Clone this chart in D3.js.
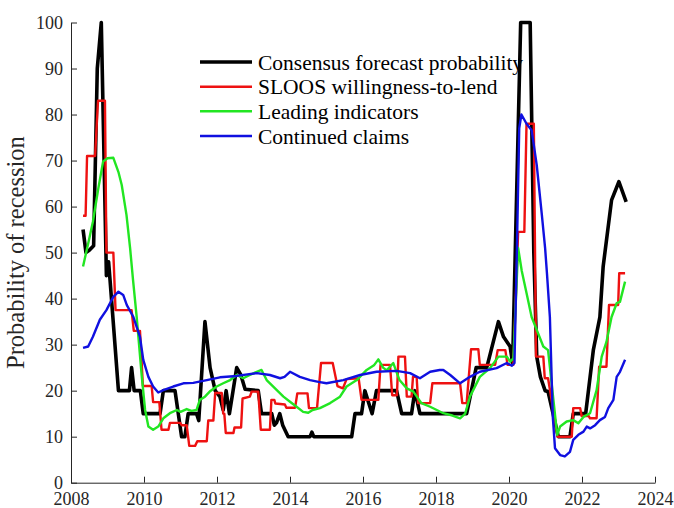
<!DOCTYPE html>
<html>
<head>
<meta charset="utf-8">
<script src="https://cdn.jsdelivr.net/npm/d3@7"></script>
<style>
html,body{margin:0;padding:0;background:#fff;}
svg{display:block;}
text{font-family:"Liberation Serif","Times New Roman",serif;}
</style>
</head>
<body>
<svg id="chart" width="674" height="508"></svg>
<script>
// ---- data (decimal year, probability %) ----
const seriesNames = ["Consensus forecast probability","SLOOS willingness-to-lend","Leading indicators","Continued claims"];
const xTicks = [2008,2010,2012,2014,2016,2018,2020,2022,2024];
const yTicks = [0,10,20,30,40,50,60,70,80,90,100];

const consensus = [[2008.33,55],[2008.41,50],[2008.5,50.5],[2008.62,51.5],[2008.72,90],[2008.83,100],[2008.97,45],[2009.03,48],[2009.07,44],[2009.3,20],[2009.6,20],[2009.66,25],[2009.73,20],[2009.9,20],[2009.98,15],[2010.44,15],[2010.53,20],[2010.85,20],[2011.03,10],[2011.12,10],[2011.21,15],[2011.44,15],[2011.5,13.5],[2011.67,35],[2011.81,25],[2011.95,20],[2012.08,18.7],[2012.17,15.8],[2012.25,20],[2012.34,15],[2012.44,20],[2012.54,25],[2012.65,23.5],[2012.77,20.3],[2013.13,20],[2013.22,15],[2013.5,15],[2013.57,12.5],[2013.63,13],[2013.72,15],[2013.8,12.5],[2013.95,10],[2014.55,10],[2014.6,11],[2014.65,10],[2015.69,10],[2015.78,15],[2015.96,15],[2016.05,20],[2016.25,15],[2016.37,20],[2016.92,20],[2017.06,15],[2017.33,15],[2017.42,20],[2017.56,15],[2018.84,15],[2019.1,25],[2019.39,25],[2019.71,35],[2019.85,31.7],[2020.03,29.6],[2020.1,26],[2020.32,100],[2020.58,100],[2020.68,50],[2020.76,27.4],[2020.86,23],[2020.99,20],[2021.07,19.8],[2021.35,10],[2021.67,10],[2021.76,15],[2022.1,15],[2022.31,28.8],[2022.49,36],[2022.58,47],[2022.81,61.4],[2023.01,65.4],[2023.21,61]];

const sloos = [[2008.33,58],[2008.4,58],[2008.44,71],[2008.66,71],[2008.74,83],[2008.93,83],[2008.97,50],[2009.16,50],[2009.22,37.5],[2009.66,37.5],[2009.72,33],[2009.89,33],[2009.97,21],[2010.21,21],[2010.25,17.5],[2010.42,17.5],[2010.48,11.5],[2010.67,11.5],[2010.71,13],[2010.99,13],[2011.03,12.5],[2011.17,12.5],[2011.24,8],[2011.4,8],[2011.46,9],[2011.72,9],[2011.76,13.5],[2011.9,13.5],[2011.95,19.5],[2012.13,19.5],[2012.17,15],[2012.2,15],[2012.24,10.8],[2012.45,10.8],[2012.48,12],[2012.66,12],[2012.7,18.3],[2012.9,18.7],[2012.95,19.8],[2013.13,19.8],[2013.2,11.5],[2013.45,11.5],[2013.49,18],[2013.57,18],[2013.6,17.2],[2013.86,17],[2013.9,16.3],[2014.14,16.3],[2014.2,19.4],[2014.48,19.4],[2014.52,16.2],[2014.74,16.2],[2014.85,26],[2015.17,26],[2015.3,21],[2015.45,20.5],[2015.55,22.5],[2015.88,22.7],[2015.96,18],[2016.42,18],[2016.48,25.6],[2016.74,25.6],[2016.8,19],[2016.93,19],[2016.97,27.4],[2017.15,27.4],[2017.2,18.7],[2017.33,18.7],[2017.37,23],[2017.47,23],[2017.51,17.3],[2017.84,17.3],[2017.9,21.6],[2018.66,21.6],[2018.72,17.3],[2018.84,17.3],[2018.96,29],[2019.16,29],[2019.2,25.6],[2019.62,25.6],[2019.69,28.8],[2019.9,28.8],[2019.96,25.6],[2020.12,25.6],[2020.25,54.5],[2020.42,54.5],[2020.48,78],[2020.68,78],[2020.74,27.4],[2020.94,27.4],[2020.98,22.7],[2021.07,22.7],[2021.33,10],[2021.72,10],[2021.76,16.2],[2021.95,16.2],[2021.99,14.5],[2022.18,14.5],[2022.22,14],[2022.4,14],[2022.47,25.2],[2022.67,25.2],[2022.74,38.6],[2022.99,38.6],[2023.02,45.5],[2023.18,45.5]];

const leading = [[2008.33,47],[2008.4,49.5],[2008.5,53],[2008.6,56.7],[2008.75,64],[2008.88,69.8],[2009.0,70.5],[2009.16,70.6],[2009.3,67.5],[2009.39,64.7],[2009.52,58.2],[2009.62,50.9],[2009.7,44],[2009.8,36],[2009.94,23],[2010.03,15.8],[2010.12,12.2],[2010.25,11.5],[2010.39,12.2],[2010.53,14],[2010.71,15.1],[2010.9,15.8],[2011.0,15.4],[2011.17,16],[2011.3,15.6],[2011.44,15.8],[2011.53,18],[2011.67,18.7],[2011.8,19.8],[2011.99,20.9],[2012.17,21.6],[2012.36,22.3],[2012.54,23.4],[2012.72,22.7],[2012.9,23.4],[2013.09,24.1],[2013.22,24.5],[2013.36,22.3],[2013.59,20.5],[2013.82,18.7],[2014.0,17.6],[2014.18,16.5],[2014.36,15.4],[2014.5,15.2],[2014.62,15.8],[2014.82,16.2],[2015.1,17.3],[2015.37,18.7],[2015.55,20.9],[2015.83,22.3],[2016.1,24.5],[2016.3,25.5],[2016.42,26.8],[2016.55,25],[2016.65,24.4],[2016.83,26],[2017.0,22.3],[2017.2,20.5],[2017.38,19.8],[2017.6,17.3],[2017.84,16.5],[2018.2,15.1],[2018.45,14.6],[2018.66,14],[2018.8,15],[2018.93,18.7],[2019.2,23],[2019.48,24.9],[2019.71,27.4],[2019.94,27.4],[2020.03,26.3],[2020.12,27],[2020.25,51],[2020.35,46],[2020.48,41.2],[2020.62,36],[2020.76,33.2],[2020.94,29.6],[2021.07,28.8],[2021.32,10.4],[2021.4,12.2],[2021.58,13.3],[2021.76,13.6],[2021.9,12.9],[2022.04,14.3],[2022.22,15.1],[2022.4,20.1],[2022.54,27.4],[2022.67,30.6],[2022.81,36],[2022.95,39],[2023.04,39.3],[2023.18,43.7]];

const claims = [[2008.33,29.3],[2008.47,29.6],[2008.6,31.7],[2008.79,35.4],[2008.97,37.5],[2009.16,40.4],[2009.3,41.5],[2009.43,40.8],[2009.53,38.6],[2009.71,36],[2009.89,31.7],[2009.98,26.7],[2010.12,23],[2010.25,20.9],[2010.39,19.6],[2010.53,20.1],[2010.8,20.9],[2011.08,21.6],[2011.35,21.7],[2011.72,22.3],[2012.08,22.9],[2012.54,23.2],[2013.09,23.8],[2013.45,23.4],[2013.73,22.7],[2013.85,23],[2014.0,24.1],[2014.27,23],[2014.55,22.3],[2014.78,21.9],[2015.0,21.6],[2015.46,22.3],[2015.92,23.4],[2016.37,24.1],[2016.92,24.3],[2017.29,23.8],[2017.56,22.7],[2017.84,24.1],[2018.1,24.5],[2018.2,24.5],[2018.39,23.4],[2018.66,21.6],[2018.93,23],[2019.2,24.1],[2019.66,24.9],[2019.94,26],[2020.08,25.4],[2020.15,26],[2020.22,52],[2020.28,77],[2020.34,80],[2020.48,78],[2020.62,76.6],[2020.76,69],[2020.9,58.2],[2020.99,50.9],[2021.04,45.5],[2021.12,36],[2021.2,14.3],[2021.26,7.5],[2021.4,6],[2021.53,5.7],[2021.67,6.7],[2021.76,9.3],[2021.9,10.4],[2022.04,11.1],[2022.13,12.2],[2022.22,11.8],[2022.36,12.5],[2022.49,13.6],[2022.63,14.3],[2022.72,16.2],[2022.86,18],[2022.95,23],[2023.04,24.1],[2023.18,26.7]];

const seriesData = [consensus, sloos, leading, claims];
const seriesColors = ["#000000","#ee1111","#22e622","#1010e0"];
const seriesWidths = [3.6,2.4,2.4,2.4];

// ---- layout ----
const svg = d3.select("#chart");
const x = d3.scaleLinear().domain([2008,2024]).range([71,655]);
const y = d3.scaleLinear().domain([0,100]).range([482.7,22.5]);
const axisColor = "#262626";

const line = d3.line().x(d => x(d[0])).y(d => y(d[1]));

// axes
const gx = svg.append("g").attr("transform","translate(0,482.7)")
  .call(d3.axisBottom(x).tickValues(xTicks).tickFormat(d3.format("d")).tickSizeInner(-6).tickSizeOuter(0).tickPadding(10));
const gy = svg.append("g").attr("transform","translate(71,0)")
  .call(d3.axisLeft(y).tickValues(yTicks).tickSizeInner(-6).tickSizeOuter(0).tickPadding(8));
[gx,gy].forEach(g => {
  g.select(".domain").attr("stroke",axisColor).attr("stroke-width",1);
  g.selectAll(".tick line").attr("stroke",axisColor).attr("stroke-width",1);
  g.selectAll(".tick text").attr("fill",axisColor).style("font-size","18px")
    .style("font-family","'Liberation Serif','Times New Roman',serif");
});

// y label
svg.append("text")
  .attr("transform","translate(24,252.6) rotate(-90)")
  .attr("text-anchor","middle")
  .attr("fill",axisColor)
  .style("font-size","24.5px")
  .text("Probability of recession");

// lines
svg.append("g").selectAll("path").data(seriesData).join("path")
  .attr("d", d => line(d))
  .attr("fill","none")
  .attr("stroke",(d,i) => seriesColors[i])
  .attr("stroke-width",(d,i) => seriesWidths[i])
  .attr("stroke-linejoin","round");

// legend
const leg = svg.append("g");
const legY = [62,86.7,111.3,136];
seriesNames.forEach((name,i) => {
  leg.append("line").attr("x1",200).attr("x2",252).attr("y1",legY[i]).attr("y2",legY[i])
    .attr("stroke",seriesColors[i]).attr("stroke-width",seriesWidths[i]);
  leg.append("text").attr("x",258).attr("y",legY[i]+7.5)
    .attr("fill","#000").style("font-size","21.5px").text(name);
});
</script>
</body>
</html>
